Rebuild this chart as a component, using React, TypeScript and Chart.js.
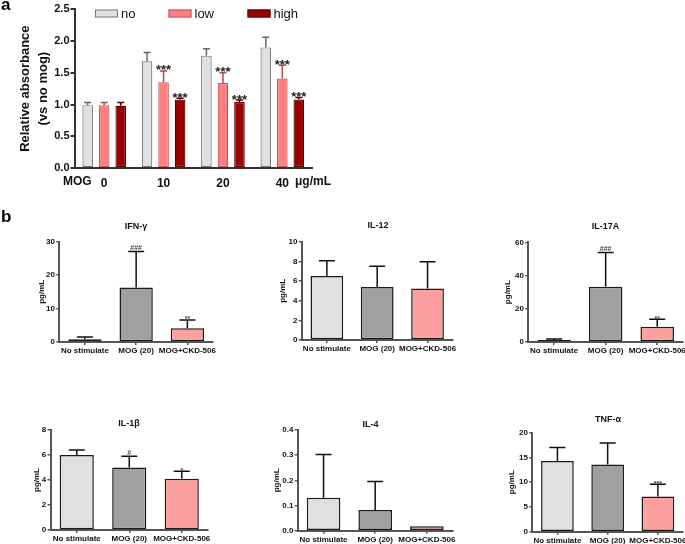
import React, { useEffect, useRef } from 'react';
import { Chart, registerables } from 'chart.js';

Chart.register(...registerables);

const SANS = "'Liberation Sans', Arial, Helvetica, sans-serif";

// ---------- Panel a data ----------
const doseLabels = ['0', '10', '20', '40'];
const seriesNames = ['no', 'low', 'high'];
const noMean = [0.99, 1.68, 1.77, 1.9];
const noErr = [0.04, 0.14, 0.11, 0.16];
const lowMean = [0.99, 1.35, 1.34, 1.41];
const lowErr = [0.04, 0.18, 0.16, 0.21];
const highMean = [0.98, 1.08, 1.04, 1.08];
const highErr = [0.05, 0.02, 0.03, 0.03];
const noSig = ['', '', '', ''];
const lowSig = ['', '***', '***', '***'];
const highSig = ['', '***', '***', '***'];
const aYMax = 2.5;
const aYStep = 0.5;

// ---------- Panel b data ----------
const groupLabels = ['No stimulate', 'MOG (20)', 'MOG+CKD-506'];
const ifnMean = [0.8, 16.3, 4.1];
const ifnErr = [0.7, 10.8, 2.5];
const ifnSig = ['', '###', '**'];
const il12Mean = [6.5, 5.4, 5.25];
const il12Err = [1.55, 2.1, 2.7];
const il12Sig = ['', '', ''];
const il17Mean = [1.2, 33.3, 9.2];
const il17Err = [0.6, 20.5, 4.5];
const il17Sig = ['', '###', '**'];
const il1bMean = [6.0, 5.0, 4.1];
const il1bErr = [0.4, 0.9, 0.6];
const il1bSig = ['', '#', '*'];
const il4Mean = [0.131, 0.082, 0.018];
const il4Err = [0.172, 0.113, 0];
const il4Sig = ['', '', ''];
const tnfMean = [14.3, 13.6, 7.1];
const tnfErr = [2.7, 4.3, 2.5];
const tnfSig = ['', '', '***'];

type Box = { x: number; y: number; w: number; h: number };
type Area = { l: number; r: number; t: number; b: number };

function geometry(box: Box, area: Area) {
  return {
    yW: area.l - box.x,
    xH: box.y + box.h - area.b,
    padding: { left: 0, top: area.t - box.y, right: box.x + box.w - area.r, bottom: 0 },
  };
}

function drawSig(ctx: CanvasRenderingContext2D, s: string, x: number, errY: number, size: number, gap: number, color: string) {
  ctx.font = `bold ${size}px ${SANS}`;
  ctx.fillStyle = color;
  ctx.textAlign = 'center';
  ctx.textBaseline = 'alphabetic';
  const y = s.includes('#') ? errY - gap : errY - gap + 0.43 * size;
  ctx.fillText(s, x, y);
}

// ---------------- Panel a ----------------
function PanelA() {
  const ref = useRef<HTMLCanvasElement>(null);
  const box: Box = { x: 0, y: 0, w: 340, h: 196 };
  const area: Area = { l: 74.5, r: 312, t: 9.3, b: 168 };
  useEffect(() => {
    const { yW, xH, padding } = geometry(box, area);
    const means = [noMean, lowMean, highMean];
    const errs = [noErr, lowErr, highErr];
    const sigs = [noSig, lowSig, highSig];
    const fills = ['#e0e0e0', '#ff8080', '#990000'];
    const borders = ['#7a7a7a', '#c05858', '#5a0000'];
    const errColors = ['#666666', '#b04848', '#5a0000'];
    const plugin = {
      id: 'aDecor',
      afterDatasetsDraw(chart: any) {
        const ctx = chart.ctx as CanvasRenderingContext2D;
        const ys = chart.scales.y;
        ctx.save();
        means.forEach((m, di) => {
          const meta = chart.getDatasetMeta(di);
          meta.data.forEach((bar: any, i: number) => {
            const top = ys.getPixelForValue(m[i]);
            const et = ys.getPixelForValue(m[i] + errs[di][i]);
            ctx.strokeStyle = errColors[di];
            ctx.lineWidth = 1.5;
            ctx.beginPath();
            ctx.moveTo(bar.x, top);
            ctx.lineTo(bar.x, et);
            ctx.moveTo(bar.x - 3.5, et);
            ctx.lineTo(bar.x + 3.5, et);
            ctx.stroke();
            if (sigs[di][i]) drawSig(ctx, sigs[di][i], bar.x, et, 13, 2, '#222');
          });
        });
        ctx.restore();
      },
      afterDraw(chart: any) {
        const ctx = chart.ctx as CanvasRenderingContext2D;
        const ca = chart.chartArea;
        ctx.save();
        // legend
        const lx = [95, 168.5, 247.5];
        seriesNames.forEach((name, i) => {
          ctx.fillStyle = fills[i];
          ctx.fillRect(lx[i], 9.5, 23, 8);
          ctx.strokeStyle = borders[i];
          ctx.lineWidth = 1;
          ctx.strokeRect(lx[i] + 0.5, 10, 22, 7);
          ctx.fillStyle = '#111';
          ctx.font = `13px ${SANS}`;
          ctx.textAlign = 'left';
          ctx.textBaseline = 'middle';
          ctx.fillText(name, lx[i] + 26, 14);
        });
        // y title
        ctx.font = `bold 13px ${SANS}`;
        ctx.textAlign = 'center';
        ctx.textBaseline = 'middle';
        ctx.translate(0, (ca.top + ca.bottom) / 2);
        ctx.rotate(-Math.PI / 2);
        ctx.fillText('Relative absorbance', 0, 25.5);
        ctx.fillText('(vs no mog)', 0, 43);
        ctx.setTransform(1, 0, 0, 1, 0, 0);
        // extra x texts
        ctx.font = `bold 12px ${SANS}`;
        ctx.textAlign = 'left';
        ctx.fillText('MOG', 63, 182);
        ctx.fillText('\u03bcg/mL', 295, 182);
        ctx.restore();
      },
    };
    const chart = new Chart(ref.current as HTMLCanvasElement, {
      type: 'bar',
      data: {
        labels: doseLabels,
        datasets: means.map((m, i) => ({
          label: seriesNames[i],
          data: m,
          backgroundColor: fills[i],
          borderColor: borders[i],
          borderWidth: 1.2,
          borderSkipped: false,
          categoryPercentage: 0.835,
          barPercentage: 0.64,
        })),
      },
      options: {
        responsive: false,
        animation: false,
        devicePixelRatio: 1,
        layout: { padding },
        plugins: { legend: { display: false }, tooltip: { enabled: false }, title: { display: false } },
        scales: {
          x: {
            offset: true,
            grid: { display: false },
            border: { display: true, color: '#333', width: 2 },
            ticks: {
              color: '#111',
              font: { family: SANS, size: 12, weight: 'bold' },
              padding: 0,
              maxRotation: 0,
              minRotation: 0,
              autoSkip: false,
            },
            afterFit(s: any) {
              s.height = xH;
              s.paddingLeft = 0;
              s.paddingRight = 0;
            },
          },
          y: {
            min: 0,
            max: aYMax,
            ticks: {
              stepSize: aYStep,
              color: '#111',
              font: { family: SANS, size: 11, weight: 'bold' },
              padding: 1,
              callback: (v: any) => Number(v).toFixed(1),
            },
            grid: { display: true, drawOnChartArea: false, drawTicks: true, tickLength: 4, color: '#333', lineWidth: 2 },
            border: { display: true, color: '#333', width: 2 },
            afterFit(s: any) {
              s.width = yW;
              s.paddingTop = 0;
              s.paddingBottom = 0;
            },
          },
        },
      } as any,
      plugins: [plugin],
    });
    return () => chart.destroy();
  }, []);
  return (
    <canvas
      ref={ref}
      width={box.w}
      height={box.h}
      style={{ position: 'absolute', left: box.x, top: box.y, width: box.w, height: box.h }}
    />
  );
}

// ---------------- Panel b ----------------
type BSpec = {
  title: string;
  box: Box;
  area: Area;
  mean: number[];
  err: number[];
  sig: string[];
  max: number;
  step: number;
  dec: number;
  titleX: number;
  titleY: number;
  yTitleX: number;
};

const bFills = ['#e0e0e0', '#a0a0a0', '#ffa0a0'];

function PanelB({ spec }: { spec: BSpec }) {
  const ref = useRef<HTMLCanvasElement>(null);
  const { box, area } = spec;
  useEffect(() => {
    const { yW, xH, padding } = geometry(box, area);
    const plugin = {
      id: 'bDecor',
      afterDatasetsDraw(chart: any) {
        const ctx = chart.ctx as CanvasRenderingContext2D;
        const ys = chart.scales.y;
        const meta = chart.getDatasetMeta(0);
        ctx.save();
        meta.data.forEach((bar: any, i: number) => {
          const top = ys.getPixelForValue(spec.mean[i]);
          const et = ys.getPixelForValue(spec.mean[i] + spec.err[i]);
          if (spec.err[i] > 0) {
            ctx.strokeStyle = '#111';
            ctx.lineWidth = 1.5;
            ctx.beginPath();
            ctx.moveTo(bar.x, top);
            ctx.lineTo(bar.x, et);
            ctx.moveTo(bar.x - 8, et);
            ctx.lineTo(bar.x + 8, et);
            ctx.stroke();
          }
          if (spec.sig[i]) drawSig(ctx, spec.sig[i], bar.x, et, 7, 1.5, '#444');
        });
        ctx.restore();
      },
      afterDraw(chart: any) {
        const ctx = chart.ctx as CanvasRenderingContext2D;
        ctx.save();
        ctx.fillStyle = '#111';
        ctx.font = `bold 9px ${SANS}`;
        ctx.textAlign = 'center';
        ctx.textBaseline = 'middle';
        ctx.fillText(spec.title, spec.titleX - box.x, spec.titleY - box.y);
        ctx.font = `bold 8px ${SANS}`;
        ctx.translate(spec.yTitleX - box.x, (area.t + area.b) / 2 - box.y);
        ctx.rotate(-Math.PI / 2);
        ctx.fillText('pg/mL', 0, 0);
        ctx.restore();
      },
    };
    const chart = new Chart(ref.current as HTMLCanvasElement, {
      type: 'bar',
      data: {
        labels: groupLabels,
        datasets: [
          {
            data: spec.mean,
            backgroundColor: bFills,
            borderColor: '#1a1a1a',
            borderWidth: 1.5,
            borderSkipped: false,
            categoryPercentage: 1,
            barPercentage: 0.65,
          },
        ],
      },
      options: {
        responsive: false,
        animation: false,
        devicePixelRatio: 1,
        layout: { padding },
        plugins: { legend: { display: false }, tooltip: { enabled: false }, title: { display: false } },
        scales: {
          x: {
            offset: true,
            grid: { display: true, offset: false, drawOnChartArea: false, drawTicks: true, tickLength: 3, color: '#555', lineWidth: 1.5 },
            border: { display: true, color: '#555', width: 2 },
            ticks: {
              color: '#111',
              font: { family: SANS, size: 8, weight: 'bold' },
              padding: 1,
              maxRotation: 0,
              minRotation: 0,
              autoSkip: false,
            },
            afterFit(s: any) {
              s.height = xH;
              s.paddingLeft = 0;
              s.paddingRight = 0;
            },
          },
          y: {
            min: 0,
            max: spec.max,
            ticks: {
              stepSize: spec.step,
              color: '#111',
              font: { family: SANS, size: 8, weight: 'bold' },
              padding: 1.3,
              callback: (v: any) => Number(v).toFixed(spec.dec),
            },
            grid: { display: true, drawOnChartArea: false, drawTicks: true, tickLength: 3, color: '#555', lineWidth: 1.5 },
            border: { display: true, color: '#555', width: 2 },
            afterFit(s: any) {
              s.width = yW;
              s.paddingTop = 0;
              s.paddingBottom = 0;
            },
          },
        },
      } as any,
      plugins: [plugin],
    });
    return () => chart.destroy();
  }, []);
  return (
    <canvas
      ref={ref}
      width={box.w}
      height={box.h}
      style={{ position: 'absolute', left: box.x, top: box.y, width: box.w, height: box.h }}
    />
  );
}

const bSpecs: BSpec[] = [
  {
    title: 'IFN-\u03b3', box: { x: 0, y: 200, w: 230, h: 170 }, area: { l: 59.3, r: 213, t: 241.7, b: 342 },
    mean: ifnMean, err: ifnErr, sig: ifnSig, max: 30, step: 10, dec: 0, titleX: 136, titleY: 227, yTitleX: 42,
  },
  {
    title: 'IL-12', box: { x: 230, y: 200, w: 230, h: 170 }, area: { l: 301.7, r: 452.7, t: 241.7, b: 340 },
    mean: il12Mean, err: il12Err, sig: il12Sig, max: 10, step: 2, dec: 0, titleX: 378, titleY: 226, yTitleX: 283,
  },
  {
    title: 'IL-17A', box: { x: 460, y: 200, w: 225, h: 170 }, area: { l: 528.3, r: 683, t: 242.3, b: 342 },
    mean: il17Mean, err: il17Err, sig: il17Sig, max: 60, step: 20, dec: 0, titleX: 605.5, titleY: 226.5, yTitleX: 508,
  },
  {
    title: 'IL-1\u03b2', box: { x: 0, y: 405, w: 230, h: 139 }, area: { l: 50.5, r: 208, t: 430, b: 530 },
    mean: il1bMean, err: il1bErr, sig: il1bSig, max: 8, step: 2, dec: 0, titleX: 129, titleY: 423.5, yTitleX: 36.7,
  },
  {
    title: 'IL-4', box: { x: 230, y: 405, w: 230, h: 139 }, area: { l: 297.7, r: 452.7, t: 430, b: 530.7 },
    mean: il4Mean, err: il4Err, sig: il4Sig, max: 0.4, step: 0.1, dec: 1, titleX: 370.5, titleY: 425, yTitleX: 276.7,
  },
  {
    title: 'TNF-\u03b1', box: { x: 460, y: 405, w: 225, h: 139 }, area: { l: 532.3, r: 683, t: 432.7, b: 531.7 },
    mean: tnfMean, err: tnfErr, sig: tnfSig, max: 20, step: 5, dec: 0, titleX: 608, titleY: 420, yTitleX: 511.7,
  },
];

export default function App() {
  const label: React.CSSProperties = {
    position: 'absolute',
    fontFamily: SANS,
    fontWeight: 'bold',
    fontSize: 17,
    lineHeight: '17px',
    color: '#000',
  };
  return (
    <div style={{ position: 'absolute', left: 0, top: 0, width: 685, height: 544, background: '#fff', overflow: 'hidden' }}>
      <PanelA />
      {bSpecs.map((s) => (
        <PanelB key={s.title} spec={s} />
      ))}
      <div style={{ ...label, left: 1, top: -4 }}>a</div>
      <div style={{ ...label, left: 1, top: 208 }}>b</div>
    </div>
  );
}
